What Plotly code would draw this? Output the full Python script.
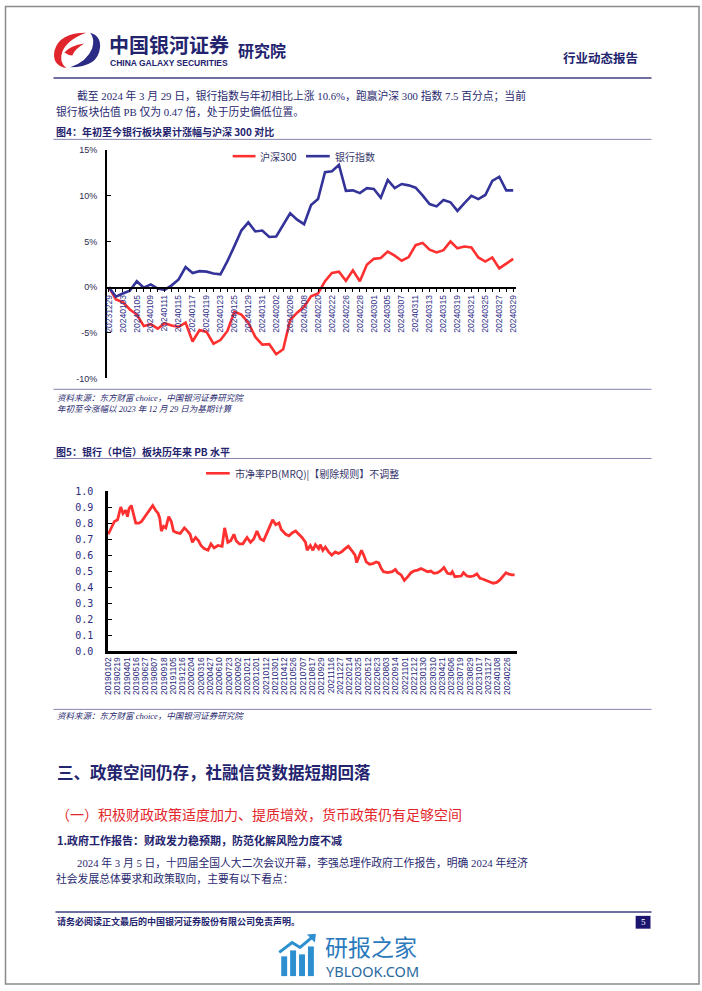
import plotly.graph_objects as go

W, H = 702, 991

# ---------------- chart 1: YTD return, bank index vs CSI 300 (%)
ytd_days = [
    "20231229", "20240102", "20240103", "20240104", "20240105", "20240108", "20240109", "20240110",
    "20240111", "20240112", "20240115", "20240116", "20240117", "20240118", "20240119", "20240122",
    "20240123", "20240124", "20240125", "20240126", "20240129", "20240130", "20240131", "20240201",
    "20240202", "20240205", "20240206", "20240207", "20240208", "20240219", "20240220", "20240221",
    "20240222", "20240223", "20240226", "20240227", "20240228", "20240229", "20240301", "20240304",
    "20240305", "20240306", "20240307", "20240308", "20240311", "20240312", "20240313", "20240314",
    "20240315", "20240318", "20240319", "20240320", "20240321", "20240322", "20240325", "20240326",
    "20240327", "20240328", "20240329",
]
hs300_ytd = [
    0, -1.35, -1.65, -2.45, -3.0, -4.25, -4.05, -4.55, -3.95, -4.2,
    -4.35, -3.9, -5.95, -4.7, -4.9, -6.2, -5.8, -4.8, -2.7, -3.0,
    -3.9, -5.45, -6.3, -6.25, -7.35, -6.8, -3.6, -2.8, -2.15, -1.0,
    -0.7, 0.65, 1.55, 1.7, 0.7, 1.85, 0.65, 2.45, 3.1, 3.2,
    3.9, 3.45, 2.9, 3.3, 4.6, 4.85, 4.1, 3.8, 4.05, 5.0,
    4.25, 4.45, 4.35, 3.25, 2.8, 3.25, 2.05, 2.6, 3.1,
]
bank_ytd = [
    0, -1.05, -0.7, -0.4, 0.65, -0.05, 0.3, -0.15, -0.3, 0.2,
    0.85, 2.2, 1.55, 1.75, 1.7, 1.5, 1.4, 2.85, 4.5, 6.2,
    7.1, 6.1, 6.2, 5.5, 5.55, 6.85, 8.1, 7.4, 6.9, 9.0,
    9.65, 12.6, 12.7, 13.4, 10.55, 10.6, 10.3, 10.85, 10.75, 9.8,
    11.75, 10.85, 11.3, 11.15, 10.9, 10.05, 9.1, 8.85, 9.55, 9.3,
    8.35, 9.2, 10.0, 9.65, 10.1, 11.65, 12.1, 10.6, 10.6,
]
ytd_ticks = [-10, -5, 0, 5, 10, 15]
ytd_ticktext = ["-10%", "-5%", "0%", "5%", "10%", "15%"]

# ---------------- chart 2: bank sector PB (trading-day index, value)
pb_day = [
    0, 19, 29, 39, 46, 55, 60, 65, 72, 77, 86, 96, 104, 111, 122, 132, 139, 148, 156, 161,
    166, 173, 180, 189, 197, 204, 214, 225, 238, 248, 256, 263, 273, 282, 290, 300, 312, 321,
    331, 343, 356, 364, 374, 383, 393, 400, 410, 421, 434, 445, 455, 465, 476, 486, 496, 503,
    514, 524, 534, 541, 555, 565, 576, 586, 596, 606, 617,
    622, 632, 640, 648, 658, 663, 671, 679, 689, 699, 710, 720, 730, 741, 751, 761, 772, 777,
    785, 792, 799, 807, 817, 828, 838, 846, 854, 861, 874, 888, 898, 905, 916, 926, 937, 947,
    957, 968, 978, 988, 999, 1009, 1019, 1030, 1040, 1050, 1061, 1071, 1076, 1084, 1094, 1104,
    1111, 1122, 1132, 1142, 1153, 1163, 1173, 1184, 1194, 1204, 1215, 1225, 1235, 1244, 1251,
    1262, 1271,
]
pb_val = [
    0.73, 0.81, 0.82, 0.90, 0.86, 0.88, 0.84, 0.89, 0.91, 0.87, 0.80, 0.80, 0.81, 0.83, 0.86,
    0.89, 0.91, 0.88, 0.86, 0.83, 0.75, 0.78, 0.77, 0.84, 0.81, 0.75, 0.74, 0.735, 0.77, 0.75,
    0.73, 0.68, 0.71, 0.69, 0.66, 0.64, 0.63, 0.67, 0.645, 0.66, 0.655, 0.77, 0.68, 0.69, 0.73,
    0.69, 0.67, 0.67, 0.71, 0.68, 0.70, 0.75, 0.70, 0.69, 0.74, 0.77, 0.82, 0.79, 0.80, 0.76,
    0.73, 0.72, 0.74, 0.75, 0.73, 0.71, 0.68,
    0.63, 0.66, 0.63, 0.665, 0.64, 0.665, 0.63, 0.65, 0.62, 0.60, 0.62, 0.61, 0.62, 0.64, 0.655,
    0.63, 0.60, 0.553, 0.59, 0.63, 0.60, 0.557, 0.543, 0.547, 0.557, 0.551, 0.516, 0.496, 0.49,
    0.496, 0.51, 0.49, 0.476, 0.441, 0.465, 0.49, 0.502, 0.506, 0.516, 0.506, 0.496, 0.50, 0.486,
    0.49, 0.502, 0.522, 0.486, 0.482, 0.496, 0.465, 0.465, 0.469, 0.49, 0.469, 0.465, 0.469,
    0.482, 0.455, 0.449, 0.441, 0.429, 0.424, 0.429, 0.445, 0.469, 0.49, 0.482, 0.476, 0.476,
]
pb_tick_text = [
    "20190102", "20190219", "20190401", "20190516", "20190627", "20190807", "20190918", "20191105",
    "20191216", "20200204", "20200316", "20200427", "20200610", "20200723", "20200902", "20201021",
    "20201201", "20210112", "20210301", "20210412", "20210526", "20210707", "20210817", "20210929",
    "20211116", "20211227", "20220214", "20220325", "20220512", "20220623", "20220803", "20220914",
    "20221101", "20221212", "20230130", "20230310", "20230421", "20230606", "20230719", "20230829",
    "20231017", "20231127", "20240108", "20240226",
]
pb_tick_pos = [29 * i for i in range(len(pb_tick_text))]
pb_yticks = [0, 0.1, 0.2, 0.3, 0.4, 0.5, 0.6, 0.7, 0.8, 0.9, 1.0]

RED = "#ff3030"
BLUE = "#333399"
NAVY = "#23236e"
TXT = "#2a2a70"
RULE = "#8484b0"
LEG = "#35356a"
CJK = "Noto Sans CJK SC"
SERIF = "Liberation Serif, Noto Sans CJK SC"


def px(x):
    return x / W


def py(y):
    return 1 - y / H


def ppath(s):
    out = []
    for tok in s.split():
        if "," in tok:
            a, b = tok.split(",")
            out.append(f"{px(float(a)):.5f},{py(float(b)):.5f}")
        else:
            out.append(tok)
    return " ".join(out)


fig = go.Figure()

fig.add_trace(go.Scatter(x=ytd_days, y=hs300_ytd, name="沪深300", mode="lines",
                         line=dict(color=RED, width=2.6), xaxis="x", yaxis="y"))
fig.add_trace(go.Scatter(x=ytd_days, y=bank_ytd, name="银行指数", mode="lines",
                         line=dict(color=BLUE, width=2.6), xaxis="x", yaxis="y"))
fig.add_trace(go.Scatter(x=pb_day, y=pb_val, name="市净率PB(MRQ)|【剔除规则】不调整", mode="lines",
                         line=dict(color=RED, width=2.8), xaxis="x2", yaxis="y2"))

annotations = []
shapes = []


def txt(s, x, y, size, color=TXT, family=SERIF, weight="normal", style="normal", anchor="left"):
    annotations.append(dict(
        text=s, x=px(x), y=py(y), xref="paper", yref="paper", xanchor=anchor, yanchor="middle",
        showarrow=False, font=dict(size=size, color=color, family=family, weight=weight, style=style),
    ))


def hline(x0, x1, y, color=RULE, width=1):
    shapes.append(dict(type="line", xref="paper", yref="paper", x0=px(x0), x1=px(x1),
                       y0=py(y), y1=py(y), line=dict(color=color, width=width)))


def legend_item(x0, x1, y, color, label):
    hline(x0, x1, y, color=color, width=2.6)
    txt(label, x1 + 3, y, 10, color=LEG, family=CJK)


# page frame
shapes.append(dict(type="rect", xref="paper", yref="paper", x0=px(0.5), x1=px(701), y0=py(990), y1=py(0.5),
                   line=dict(color="#8a8a8a", width=1.5)))

# header logo
shapes.append(dict(type="path", xref="paper", yref="paper", line=dict(width=0), fillcolor="#e0262c",
                   path=ppath("M 82,27 Q 55,27 50,45 Q 47,60 62,63 Q 54,56 58,46 Q 63,34 82,27 Z")))
shapes.append(dict(type="path", xref="paper", yref="paper", line=dict(width=0), fillcolor="#e0262c",
                   path=ppath("M 60,47 Q 66,40 80,38 Q 70,44 68,50 Q 64,50 60,47 Z")))
shapes.append(dict(type="path", xref="paper", yref="paper", line=dict(width=0), fillcolor="#2b2a85",
                   path=ppath("M 66,62 Q 94,62 96,42 Q 97,30 86,27 Q 91,33 88,43 Q 83,56 66,62 Z")))
txt("中国银河证券", 103, 39, 20, color=NAVY, family=CJK, weight="bold")
txt("CHINA GALAXY SECURITIES", 104, 57.5, 8.5, color=NAVY, family="Liberation Sans", weight="bold")
txt("研究院", 233, 45, 16, color=NAVY, family=CJK, weight="bold")
txt("行业动态报告", 641, 52, 12.5, color=NAVY, family=CJK, weight="bold", anchor="right")
hline(49, 653, 73, color="#6f6fa0", width=2)

txt("截至 2024 年 3 月 29 日，银行指数与年初相比上涨 10.6%，跑赢沪深 300 指数 7.5 百分点；当前", 71, 91, 10.8)
txt("银行板块估值 PB 仅为 0.47 倍，处于历史偏低位置。", 49, 107, 10.8)

# figure 4 frame
txt("图4：年初至今银行板块累计涨幅与沪深 300 对比", 49, 127, 10, color=NAVY, family=CJK, weight="bold")
hline(49, 653, 135)
legend_item(230, 253, 152, RED, "沪深300")
legend_item(304, 328, 152, BLUE, "银行指数")
hline(49, 653, 388)
txt("资料来源：东方财富 choice，中国银河证券研究院", 50, 397, 8.5, style="italic")
txt("年初至今涨幅以 2023 年 12 月 29 日为基期计算", 50, 408, 8.5, style="italic")

# figure 5 frame
txt("图5：银行（中信）板块历年来 PB 水平", 49, 451, 10, color=NAVY, family=CJK, weight="bold")
hline(49, 653, 458)
legend_item(203, 227, 473, RED, "市净率PB(MRQ)|【剔除规则】不调整")
hline(49, 653, 712)
txt("资料来源：东方财富 choice，中国银河证券研究院", 50, 719, 8.5, style="italic")

# section text
txt("三、政策空间仍存，社融信贷数据短期回落", 50, 775, 16.5, color=NAVY, family=CJK, weight="bold")
txt("（一）积极财政政策适度加力、提质增效，货币政策仍有足够空间", 49, 819, 14, color="#e3262b")
txt("1.政府工作报告：财政发力稳预期，防范化解风险力度不减", 50, 844, 11, color=NAVY, family=CJK, weight="bold")
txt("2024 年 3 月 5 日，十四届全国人大二次会议开幕，李强总理作政府工作报告，明确 2024 年经济", 71, 867, 10.8)
txt("社会发展总体要求和政策取向，主要有以下看点：", 49, 883, 10.8)

# footer
hline(51, 653, 917, color="#3c3c80", width=1.5)
txt("请务必阅读正文最后的中国银河证券股份有限公司免责声明。", 50, 927, 9, color=NAVY, family=SERIF, weight="bold")
shapes.append(dict(type="rect", xref="paper", yref="paper", x0=px(637), x1=px(652), y0=py(934), y1=py(921),
                   line=dict(width=0), fillcolor="#1c1570"))
txt("5", 644.5, 927.5, 9, color="white", anchor="center")

# watermark
for x0, top in [(279, 962), (288, 956), (297, 960), (306, 952)]:
    shapes.append(dict(type="rect", xref="paper", yref="paper", x0=px(x0), x1=px(x0 + 6), y0=py(982), y1=py(top),
                       line=dict(width=0), fillcolor="#2d8fd0"))
shapes.append(dict(type="path", xref="paper", yref="paper", line=dict(color="#2d8fd0", width=3),
                   path=ppath("M 277,958 L 290,948 L 298,953 L 311,942")))
shapes.append(dict(type="path", xref="paper", yref="paper", line=dict(width=0), fillcolor="#2d8fd0",
                   path=ppath("M 305,940 L 314,939 L 313,948 Z")))
txt("研报之家", 321, 952, 23, color="#2b79bd", family=CJK)
txt("YBLOOK.COM", 322, 977, 14.5, color="#2a6aa0", family="Noto Sans")

zero_pos = py(285)

fig.update_layout(
    width=W, height=H,
    margin=dict(l=0, r=0, t=0, b=0),
    paper_bgcolor="white", plot_bgcolor="white",
    showlegend=False,
    annotations=annotations,
    shapes=shapes,
    xaxis=dict(
        type="category", domain=[px(103), px(516)], range=[-0.28, 58.38],
        anchor="free", position=zero_pos,
        showline=True, linecolor="black", linewidth=2,
        ticks="outside", ticklen=3, tickwidth=1, tickcolor="black",
        tickvals=ytd_days, ticktext=[d if i % 2 == 0 else "" for i, d in enumerate(ytd_days)],
        tickangle=-90, tickfont=dict(size=8.5, color="#33338a", family="Liberation Sans"),
        showgrid=False, zeroline=False,
    ),
    yaxis=dict(
        domain=[py(377), py(146)], range=[-10, 15], anchor="x",
        showline=True, linecolor="black", linewidth=2,
        ticks="inside", ticklen=4, tickcolor="black",
        tickvals=ytd_ticks, ticktext=ytd_ticktext, ticklabelstandoff=6,
        tickfont=dict(size=9, color="#2c2c50", family="Liberation Sans"),
        showgrid=False, zeroline=False,
    ),
    xaxis2=dict(
        domain=[px(104), px(517)], range=[-1, 1278], anchor="y2",
        showline=True, linecolor="black", linewidth=2.5, ticks="",
        tickvals=pb_tick_pos, ticktext=pb_tick_text, tickangle=-90,
        tickfont=dict(size=8.5, color="#2a2a80", family="Liberation Sans"),
        showgrid=False, zeroline=False,
    ),
    yaxis2=dict(
        domain=[py(653), py(491)], range=[0, 1.0], anchor="x2",
        showline=True, linecolor="black", linewidth=2.5,
        ticks="inside", ticklen=4, tickcolor="black",
        tickvals=pb_yticks, tickformat=".1f", ticklabelstandoff=10,
        tickfont=dict(size=10, color="#2a2a80", family="DejaVu Sans Mono"),
        showgrid=False, zeroline=False,
    ),
)

# the page body has a default margin; drop it so the figure sits at the window origin
fig.write_html("out.html", config={"displayModeBar": False},
               post_script="document.body.style.margin='0';document.body.style.overflow='hidden';")
